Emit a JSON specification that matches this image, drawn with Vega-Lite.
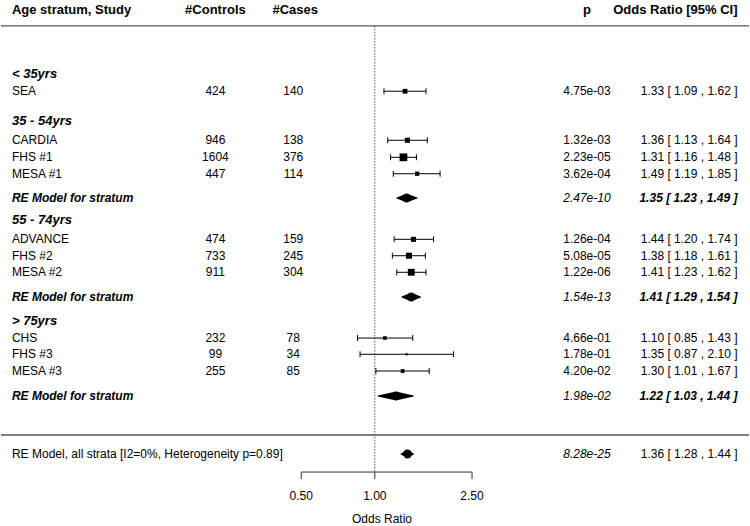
{
  "$schema": "https://vega.github.io/schema/vega-lite/v6.json",
  "width": 750,
  "height": 526,
  "autosize": {"type": "fit", "contains": "padding"},
  "padding": 0,
  "background": "white",
  "config": {
    "view": {"stroke": null},
    "text": {"font": "Liberation Sans", "fontSize": 12, "color": "black", "baseline": "middle"}
  },
  "data": {"values": [
      {"row": 23.2, "kind": "title", "label": "< 35yrs"},
      {"row": 22.12, "kind": "study", "label": "SEA", "controls": 424, "cases": 140, "p": "4.75e-03", "or": 1.33, "lo": 1.09, "hi": 1.62, "weight": 97.9, "ci": "1.33 [ 1.09 , 1.62 ]"},
      {"row": 20.3, "kind": "title", "label": "35 - 54yrs"},
      {"row": 19.13, "kind": "study", "label": "CARDIA", "controls": 946, "cases": 138, "p": "1.32e-03", "or": 1.36, "lo": 1.13, "hi": 1.64, "weight": 110.8, "ci": "1.36 [ 1.13 , 1.64 ]"},
      {"row": 18.09, "kind": "study", "label": "FHS #1", "controls": 1604, "cases": 376, "p": "2.23e-05", "or": 1.31, "lo": 1.16, "hi": 1.48, "weight": 259, "ci": "1.31 [ 1.16 , 1.48 ]"},
      {"row": 17.09, "kind": "study", "label": "MESA #1", "controls": 447, "cases": 114, "p": "3.62e-04", "or": 1.49, "lo": 1.19, "hi": 1.85, "weight": 78.9, "ci": "1.49 [ 1.19 , 1.85 ]"},
      {"row": 15.61, "kind": "re", "label": "RE Model for stratum", "p": "2.47e-10", "or": 1.35, "lo": 1.23, "hi": 1.49, "ci": "1.35 [ 1.23 , 1.49 ]"},
      {"row": 14.27, "kind": "title", "label": "55 - 74yrs"},
      {"row": 13.09, "kind": "study", "label": "ADVANCE", "controls": 474, "cases": 159, "p": "1.26e-04", "or": 1.44, "lo": 1.20, "hi": 1.74, "weight": 111.3, "ci": "1.44 [ 1.20 , 1.74 ]"},
      {"row": 12.09, "kind": "study", "label": "FHS #2", "controls": 733, "cases": 245, "p": "5.08e-05", "or": 1.38, "lo": 1.18, "hi": 1.61, "weight": 159, "ci": "1.38 [ 1.18 , 1.61 ]"},
      {"row": 11.08, "kind": "study", "label": "MESA #2", "controls": 911, "cases": 304, "p": "1.22e-06", "or": 1.41, "lo": 1.23, "hi": 1.62, "weight": 202.6, "ci": "1.41 [ 1.23 , 1.62 ]"},
      {"row": 9.57, "kind": "re", "label": "RE Model for stratum", "p": "1.54e-13", "or": 1.41, "lo": 1.29, "hi": 1.54, "ci": "1.41 [ 1.29 , 1.54 ]"},
      {"row": 8.14, "kind": "title", "label": "> 75yrs"},
      {"row": 7.07, "kind": "study", "label": "CHS", "controls": 232, "cases": 78, "p": "4.66e-01", "or": 1.10, "lo": 0.85, "hi": 1.43, "weight": 56.8, "ci": "1.10 [ 0.85 , 1.43 ]"},
      {"row": 6.08, "kind": "study", "label": "FHS #3", "controls": 99, "cases": 34, "p": "1.78e-01", "or": 1.35, "lo": 0.87, "hi": 2.10, "weight": 19.8, "ci": "1.35 [ 0.87 , 2.10 ]"},
      {"row": 5.06, "kind": "study", "label": "MESA #3", "controls": 255, "cases": 85, "p": "4.20e-02", "or": 1.30, "lo": 1.01, "hi": 1.67, "weight": 60.8, "ci": "1.30 [ 1.01 , 1.67 ]"},
      {"row": 3.54, "kind": "re", "label": "RE Model for stratum", "p": "1.98e-02", "or": 1.22, "lo": 1.03, "hi": 1.44, "ci": "1.22 [ 1.03 , 1.44 ]"},
      {"row": 0, "kind": "overall", "label": "RE Model, all strata [I2=0%, Heterogeneity p=0.89]", "p": "8.28e-25", "or": 1.36, "lo": 1.28, "hi": 1.44, "ci": "1.36 [ 1.28 , 1.44 ]"}
  ]},
  "resolve": {"scale": {"size": "independent"}},
  "layer": [
    {
      "data": {"values": [{"id": 1}]},
      "mark": {"type": "rule", "color": "#555555", "strokeWidth": 1.3},
      "encoding": {"y": {"datum": 26.1, "type": "quantitative", "scale": {"domain": [-4.39, 27.683], "nice": false, "zero": false}, "axis": null}}
    },
    {
      "data": {"values": [{"id": 1}]},
      "mark": {"type": "rule", "color": "#555555", "strokeWidth": 1.3},
      "encoding": {"y": {"datum": 1.16, "type": "quantitative", "scale": {"domain": [-4.39, 27.683], "nice": false, "zero": false}, "axis": null}}
    },
    {
      "data": {"values": [{"id": 1}]},
      "mark": {"type": "rule", "color": "#555555", "strokeWidth": 1, "strokeDash": [1.5, 1.5]},
      "encoding": {
        "x": {"datum": 1, "type": "quantitative", "scale": {"type": "log", "domain": [0.02952, 34.0], "nice": false}, "axis": null},
        "y": {"datum": 26.1, "type": "quantitative", "scale": {"domain": [-4.39, 27.683], "nice": false, "zero": false}, "axis": null},
        "y2": {"datum": -1.1}
      }
    },
    {
      "data": {"values": [{"id": 1}]},
      "mark": {"type": "rule", "color": "#333333", "strokeWidth": 1},
      "encoding": {
        "x": {"datum": 0.5, "type": "quantitative", "scale": {"type": "log", "domain": [0.02952, 34.0], "nice": false}, "axis": null},
        "x2": {"datum": 2.5},
        "y": {"datum": -1.1, "type": "quantitative", "scale": {"domain": [-4.39, 27.683], "nice": false, "zero": false}, "axis": null}
      }
    },
    {
      "data": {"values": [{"v": 0.5, "label": "0.50"}, {"v": 1, "label": "1.00"}, {"v": 2.5, "label": "2.50"}]},
      "layer": [
        {
          "mark": {"type": "rule", "color": "#333333", "strokeWidth": 1},
          "encoding": {
            "x": {"field": "v", "type": "quantitative", "scale": {"type": "log", "domain": [0.02952, 34.0], "nice": false}, "axis": null},
            "y": {"datum": -1.1, "type": "quantitative", "scale": {"domain": [-4.39, 27.683], "nice": false, "zero": false}, "axis": null},
            "y2": {"datum": -1.53}
          }
        },
        {
          "mark": {"type": "text", "align": "center"},
          "encoding": {
            "x": {"field": "v", "type": "quantitative", "scale": {"type": "log", "domain": [0.02952, 34.0], "nice": false}, "axis": null},
            "y": {"datum": -2.56, "type": "quantitative", "scale": {"domain": [-4.39, 27.683], "nice": false, "zero": false}, "axis": null},
            "text": {"field": "label"}
          }
        }
      ]
    },
    {
      "data": {"values": [{"title": "Odds Ratio"}]},
      "mark": {"type": "text", "align": "center"},
      "encoding": {
        "x": {"datum": 1.07, "type": "quantitative", "scale": {"type": "log", "domain": [0.02952, 34.0], "nice": false}, "axis": null},
        "y": {"datum": -3.96, "type": "quantitative", "scale": {"domain": [-4.39, 27.683], "nice": false, "zero": false}, "axis": null},
        "text": {"field": "title"}
      }
    },
    {
      "data": {"values": [{"study": "Age stratum, Study", "controls": "#Controls", "cases": "#Cases", "p": "p", "ci": "Odds Ratio [95% CI]"}]},
      "encoding": {
        "y": {"datum": 27.1, "type": "quantitative", "scale": {"domain": [-4.39, 27.683], "nice": false, "zero": false}, "axis": null}
      },
      "layer": [
        {
          "mark": {"type": "text", "align": "left", "fontWeight": "bold", "fontSize": 13},
          "encoding": {
            "x": {"datum": 0.03273, "type": "quantitative", "scale": {"type": "log", "domain": [0.02952, 34.0], "nice": false}, "axis": null},
            "text": {"field": "study"}
          }
        },
        {
          "mark": {"type": "text", "align": "center", "fontWeight": "bold", "fontSize": 13},
          "encoding": {
            "x": {"datum": 0.2227, "type": "quantitative", "scale": {"type": "log", "domain": [0.02952, 34.0], "nice": false}, "axis": null},
            "text": {"field": "controls"}
          }
        },
        {
          "mark": {"type": "text", "align": "center", "fontWeight": "bold", "fontSize": 13},
          "encoding": {
            "x": {"datum": 0.4724, "type": "quantitative", "scale": {"type": "log", "domain": [0.02952, 34.0], "nice": false}, "axis": null},
            "text": {"field": "cases"}
          }
        },
        {
          "mark": {"type": "text", "align": "center", "fontWeight": "bold", "fontSize": 13},
          "encoding": {
            "x": {"datum": 7.382, "type": "quantitative", "scale": {"type": "log", "domain": [0.02952, 34.0], "nice": false}, "axis": null},
            "text": {"field": "p"}
          }
        },
        {
          "mark": {"type": "text", "align": "right", "fontWeight": "bold", "fontSize": 13},
          "encoding": {
            "x": {"datum": 30.51, "type": "quantitative", "scale": {"type": "log", "domain": [0.02952, 34.0], "nice": false}, "axis": null},
            "text": {"field": "ci"}
          }
        }
      ]
    },
    {
      "encoding": {
        "y": {"field": "row", "type": "quantitative", "scale": {"domain": [-4.39, 27.683], "nice": false, "zero": false}, "axis": null}
      },
      "resolve": {"scale": {"size": "independent"}},
      "layer": [
        {
          "transform": [{"filter": "datum.kind === 'study'"}],
          "mark": {"type": "rule", "color": "black", "strokeWidth": 1},
          "encoding": {
            "x": {"field": "lo", "type": "quantitative", "scale": {"type": "log", "domain": [0.02952, 34.0], "nice": false}, "axis": null},
            "x2": {"field": "hi"}
          }
        },
        {
          "transform": [{"filter": "datum.kind === 'study'"}],
          "mark": {"type": "tick", "orient": "vertical", "size": 6, "thickness": 1, "color": "black", "opacity": 1},
          "encoding": {
            "x": {"field": "lo", "type": "quantitative", "scale": {"type": "log", "domain": [0.02952, 34.0], "nice": false}, "axis": null}
          }
        },
        {
          "transform": [{"filter": "datum.kind === 'study'"}],
          "mark": {"type": "tick", "orient": "vertical", "size": 6, "thickness": 1, "color": "black", "opacity": 1},
          "encoding": {
            "x": {"field": "hi", "type": "quantitative", "scale": {"type": "log", "domain": [0.02952, 34.0], "nice": false}, "axis": null}
          }
        },
        {
          "transform": [{"filter": "datum.kind === 'study'"}],
          "mark": {"type": "point", "shape": "square", "filled": true, "color": "black", "opacity": 1, "strokeWidth": 0},
          "encoding": {
            "x": {"field": "or", "type": "quantitative", "scale": {"type": "log", "domain": [0.02952, 34.0], "nice": false}, "axis": null},
            "size": {"field": "weight", "type": "quantitative", "scale": {"domain": [0, 259], "range": [0, 60]}, "legend": null}
          }
        },
        {
          "transform": [
            {"filter": "datum.kind === 're' || datum.kind === 'overall'"},
            {"fold": ["lo", "or", "hi"], "as": ["key", "val"]},
            {"lookup": "key", "from": {"data": {"values": [{"key": "lo", "peak": 0}, {"key": "or", "peak": 1}, {"key": "hi", "peak": 0}]}, "key": "key", "fields": ["peak"]}}
          ],
          "mark": {"type": "trail", "color": "black"},
          "encoding": {
            "x": {"field": "val", "type": "quantitative", "scale": {"type": "log", "domain": [0.02952, 34.0], "nice": false}, "axis": null},
            "size": {"field": "peak", "type": "quantitative", "scale": {"domain": [0, 1], "range": [0, 9]}, "legend": null},
            "detail": {"field": "row"},
            "order": {"field": "val", "type": "quantitative"}
          }
        },
        {
          "transform": [{"filter": "datum.kind === 'study' || datum.kind === 'overall'"}],
          "mark": {"type": "text", "align": "left"},
          "encoding": {
            "x": {"datum": 0.03273, "type": "quantitative", "scale": {"type": "log", "domain": [0.02952, 34.0], "nice": false}, "axis": null},
            "text": {"field": "label"}
          }
        },
        {
          "transform": [{"filter": "datum.kind === 'title'"}],
          "mark": {"type": "text", "align": "left", "fontWeight": "bold", "fontStyle": "italic", "fontSize": 13},
          "encoding": {
            "x": {"datum": 0.03273, "type": "quantitative", "scale": {"type": "log", "domain": [0.02952, 34.0], "nice": false}, "axis": null},
            "text": {"field": "label"}
          }
        },
        {
          "transform": [{"filter": "datum.kind === 're'"}],
          "mark": {"type": "text", "align": "left", "fontWeight": "bold", "fontStyle": "italic", "fontSize": 12},
          "encoding": {
            "x": {"datum": 0.03273, "type": "quantitative", "scale": {"type": "log", "domain": [0.02952, 34.0], "nice": false}, "axis": null},
            "text": {"field": "label"}
          }
        },
        {
          "transform": [{"filter": "datum.kind === 'study'"}],
          "mark": {"type": "text", "align": "center"},
          "encoding": {
            "x": {"datum": 0.2227, "type": "quantitative", "scale": {"type": "log", "domain": [0.02952, 34.0], "nice": false}, "axis": null},
            "text": {"field": "controls"}
          }
        },
        {
          "transform": [{"filter": "datum.kind === 'study'"}],
          "mark": {"type": "text", "align": "center"},
          "encoding": {
            "x": {"datum": 0.4636, "type": "quantitative", "scale": {"type": "log", "domain": [0.02952, 34.0], "nice": false}, "axis": null},
            "text": {"field": "cases"}
          }
        },
        {
          "transform": [{"filter": "datum.kind === 'study'"}],
          "mark": {"type": "text", "align": "center"},
          "encoding": {
            "x": {"datum": 7.382, "type": "quantitative", "scale": {"type": "log", "domain": [0.02952, 34.0], "nice": false}, "axis": null},
            "text": {"field": "p"}
          }
        },
        {
          "transform": [{"filter": "datum.kind === 're' || datum.kind === 'overall'"}],
          "mark": {"type": "text", "align": "center", "fontStyle": "italic"},
          "encoding": {
            "x": {"datum": 7.382, "type": "quantitative", "scale": {"type": "log", "domain": [0.02952, 34.0], "nice": false}, "axis": null},
            "text": {"field": "p"}
          }
        },
        {
          "transform": [{"filter": "datum.kind === 'study' || datum.kind === 'overall'"}],
          "mark": {"type": "text", "align": "right"},
          "encoding": {
            "x": {"datum": 30.51, "type": "quantitative", "scale": {"type": "log", "domain": [0.02952, 34.0], "nice": false}, "axis": null},
            "text": {"field": "ci"}
          }
        },
        {
          "transform": [{"filter": "datum.kind === 're'"}],
          "mark": {"type": "text", "align": "right", "fontWeight": "bold", "fontStyle": "italic"},
          "encoding": {
            "x": {"datum": 30.51, "type": "quantitative", "scale": {"type": "log", "domain": [0.02952, 34.0], "nice": false}, "axis": null},
            "text": {"field": "ci"}
          }
        }
      ]
    }
  ]
}
